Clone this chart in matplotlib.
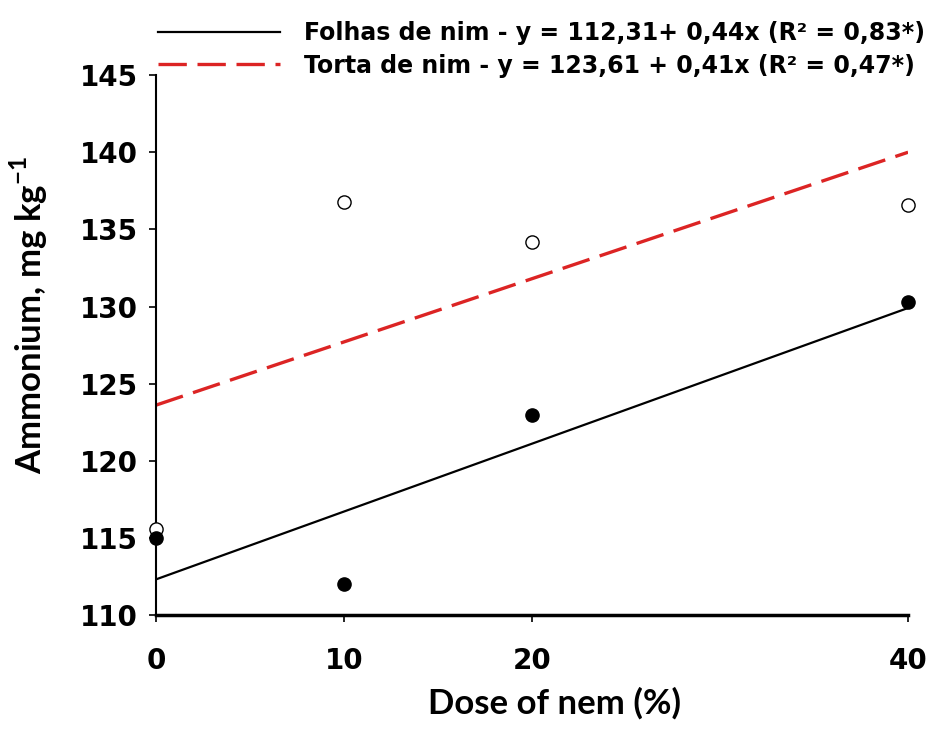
import numpy as np
import matplotlib
matplotlib.use("Agg")
import matplotlib.pyplot as plt
from matplotlib.lines import Line2D

plt.rcParams['mathtext.fontset'] = 'custom'
plt.rcParams['mathtext.bf'] = 'Lato:bold'
plt.rcParams['mathtext.rm'] = 'Lato'

doses = [0, 10, 20, 40]
folhas = [115.0, 112.0, 123.0, 130.3]
torta = [115.6, 136.8, 134.2, 136.6]
folhas_fit = (112.31, 0.44)
torta_fit = (123.61, 0.41)
xticks = [0, 10, 20, 40]
yticks = [110, 115, 120, 125, 130, 135, 140, 145]
leg_labels = ["Folhas de nim - y = 112,31+ 0,44x (R² = 0,83*)",
              "Torta de nim - y = 123,61 + 0,41x (R² = 0,47*)"]

RED = '#dc2424'
fig = plt.figure(figsize=(9.41, 7.31), dpi=100)
ax = fig.add_axes([0.1658, 0.1587, 0.7992, 0.7383])

xs = np.array([0, 40])
ax.plot(xs, folhas_fit[0] + folhas_fit[1] * xs, color='black', lw=1.6, zorder=2)
ax.plot(xs, torta_fit[0] + torta_fit[1] * xs, color=RED, lw=2.4,
        dashes=(8.5, 3.2), zorder=2)
ax.plot(doses, folhas, 'o', color='black', ms=9.5, zorder=4, clip_on=False)
ax.plot(doses, torta, 'o', mfc='white', mec='black', mew=1.0, ms=9.5, zorder=3, clip_on=False)

ax.set_xlim(0, 40)
ax.set_ylim(110, 145)
ax.set_xticks(xticks)
ax.set_yticks(yticks)
for s in ['top', 'right']:
    ax.spines[s].set_visible(False)
ax.spines['left'].set_linewidth(1.5)
ax.spines['bottom'].set_linewidth(2.5)
ax.tick_params(direction='out', length=5, width=1.2)
ax.tick_params(axis='x', pad=18)
ax.tick_params(axis='y', pad=8)
for lab in ax.get_xticklabels() + ax.get_yticklabels():
    lab.set_fontfamily('DejaVu Sans')
    lab.set_fontweight('bold')
    lab.set_fontsize(20)

ax.set_xlabel('Dose of nem (%)', fontfamily='Lato', fontweight='bold', fontsize=25)
ax.set_ylabel('Ammonium, mg kg$^{\\mathbf{-1}}$', fontfamily='Lato', fontweight='bold', fontsize=25)
ax.xaxis.set_label_coords(0.53, -0.133)
ax.yaxis.set_label_coords(-0.141, 0.556)

handles = [Line2D([], [], color='black', lw=1.6),
           Line2D([], [], color=RED, lw=2.4, dashes=(8.5, 3.2))]
leg = fig.legend(handles, leg_labels, loc='upper left', bbox_to_anchor=(0.145, 1.0),
                 frameon=False, handlelength=5.2, handletextpad=1.0, labelspacing=0.35,
                 prop={'family': 'Liberation Sans Narrow', 'weight': 'bold', 'size': 17})

fig.savefig('out.png', dpi=100)
